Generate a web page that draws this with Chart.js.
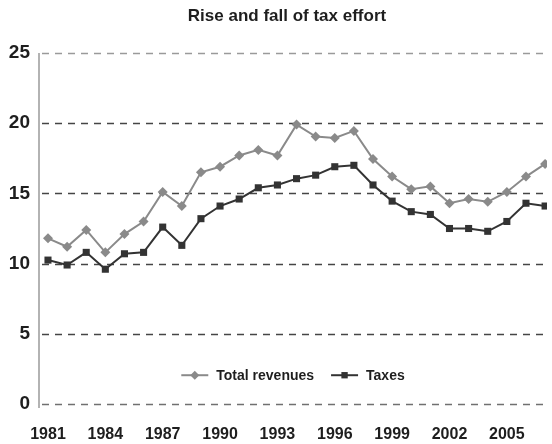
<!DOCTYPE html>
<html>
<head>
<meta charset="utf-8">
<script src="https://cdn.jsdelivr.net/npm/chart.js@4/dist/chart.umd.min.js"></script>
<style>
  html, body { margin: 0; padding: 0; background: #fff; }
  #wrap { width: 552px; height: 444px; position: relative; }
</style>
</head>
<body>
<div id="wrap"><canvas id="c" width="552" height="444"></canvas></div>
<script>
// Years covered by the series
const years = [1981, 1982, 1983, 1984, 1985, 1986, 1987, 1988, 1989, 1990,
  1991, 1992, 1993, 1994, 1995, 1996, 1997, 1998, 1999, 2000,
  2001, 2002, 2003, 2004, 2005, 2006, 2007];

// Total revenues, % of GDP
const totalRevenues = [11.8, 11.2, 12.4, 10.8, 12.1, 13.0, 15.1, 14.1, 16.5, 16.9,
  17.7, 18.1, 17.7, 19.9, 19.05, 18.95, 19.45, 17.45, 16.2, 15.3,
  15.5, 14.3, 14.6, 14.4, 15.1, 16.2, 17.1];

// Taxes, % of GDP
const taxes = [10.25, 9.9, 10.8, 9.6, 10.7, 10.8, 12.6, 11.3, 13.2, 14.1,
  14.6, 15.4, 15.6, 16.05, 16.3, 16.9, 17.0, 15.6, 14.45, 13.7,
  13.5, 12.5, 12.5, 12.3, 13.0, 14.3, 14.1];

// Labelled years on the horizontal axis
const xTickLabels = [1981, 1984, 1987, 1990, 1993, 1996, 1999, 2002, 2005];
// Values on the vertical axis
const yTickLabels = [0, 5, 10, 15, 20, 25];

const chartTitle = 'Rise and fall of tax effort';
const FONT = '"Liberation Sans", Arial, Helvetica, sans-serif';

// Dashed horizontal grid lines at each y tick, plus the solid vertical axis line
const dashedGrid = {
  id: 'dashedGrid',
  beforeDatasetsDraw(chart) {
    const ctx = chart.ctx;
    const area = chart.chartArea;
    const ys = chart.scales.y;
    ctx.save();
    ctx.lineWidth = 1.3;
    ctx.setLineDash([7, 6]);
    yTickLabels.forEach(v => {
      const py = Math.round(ys.getPixelForValue(v)) + 0.5;
      ctx.strokeStyle = v === 25 ? '#9a9a9a' : (v === 0 ? '#707070' : '#454545');
      ctx.beginPath();
      ctx.moveTo(area.left + 3, py);
      ctx.lineTo(area.right, py);
      ctx.stroke();
    });
    ctx.setLineDash([]);
    ctx.strokeStyle = '#9a9a9a';
    ctx.lineWidth = 1.5;
    ctx.beginPath();
    ctx.moveTo(area.left, area.top);
    ctx.lineTo(area.left, area.bottom + 4);
    ctx.stroke();
    ctx.restore();
  }
};

// Title centred over the plot
const plotTitle = {
  id: 'plotTitle',
  afterDraw(chart) {
    const ctx = chart.ctx;
    ctx.save();
    ctx.font = 'bold 17px ' + FONT;
    ctx.fillStyle = '#1e1e1e';
    ctx.textAlign = 'center';
    ctx.textBaseline = 'middle';
    ctx.fillText(chartTitle, 287, 16);
    ctx.restore();
  }
};

// Legend drawn inside the plot area: a line sample with its marker, then the name
const innerLegend = {
  id: 'innerLegend',
  afterDatasetsDraw(chart) {
    const ctx = chart.ctx;
    const area = chart.chartArea;
    const y = area.top + (area.bottom - area.top) * 0.918;
    const sample = 27, textGap = 8, itemGap = 17;
    ctx.save();
    ctx.font = 'bold 14px ' + FONT;
    const items = chart.data.datasets.map(ds => ({ ds, w: ctx.measureText(ds.label).width }));
    const total = items.reduce((s, it) => s + sample + textGap + it.w, 0) + itemGap * (items.length - 1);
    let x = (area.left + area.right) / 2 - total / 2;
    items.forEach(it => {
      const ds = it.ds;
      ctx.strokeStyle = ds.borderColor;
      ctx.lineWidth = ds.borderWidth;
      ctx.beginPath();
      ctx.moveTo(x, y);
      ctx.lineTo(x + sample, y);
      ctx.stroke();
      ctx.fillStyle = ds.pointBackgroundColor;
      Chart.helpers.drawPoint(ctx, { pointStyle: ds.pointStyle, radius: ds.pointRadius - 0.5, borderWidth: 0 }, x + sample / 2, y);
      ctx.fillStyle = '#1e1e1e';
      ctx.textBaseline = 'middle';
      ctx.textAlign = 'left';
      ctx.fillText(ds.label, x + sample + textGap, y + 0.5);
      x += sample + textGap + it.w + itemGap;
    });
    ctx.restore();
  }
};

new Chart(document.getElementById('c'), {
  type: 'line',
  data: {
    datasets: [
      {
        label: 'Total revenues',
        data: years.map((yr, i) => ({ x: yr, y: totalRevenues[i] })),
        borderColor: '#8a8a8a',
        backgroundColor: '#8a8a8a',
        pointBackgroundColor: '#8a8a8a',
        pointBorderWidth: 0,
        borderWidth: 2,
        pointStyle: 'rectRot',
        pointRadius: 5,
        tension: 0
      },
      {
        label: 'Taxes',
        data: years.map((yr, i) => ({ x: yr, y: taxes[i] })),
        borderColor: '#333333',
        backgroundColor: '#333333',
        pointBackgroundColor: '#333333',
        pointBorderWidth: 0,
        borderWidth: 2,
        pointStyle: 'rect',
        pointRadius: 5,
        tension: 0
      }
    ]
  },
  options: {
    responsive: false,
    animation: false,
    layout: { padding: { left: 0, right: 5, top: 53, bottom: 0 } },
    plugins: {
      legend: { display: false },
      tooltip: { enabled: false },
      title: { display: false }
    },
    scales: {
      x: {
        type: 'linear',
        min: 1980.53,
        max: 2007.1,
        afterBuildTicks(scale) { scale.ticks = xTickLabels.map(v => ({ value: v })); },
        afterFit(scale) { scale.height = 40; },
        grid: { display: false, drawTicks: false },
        border: { display: false },
        ticks: {
          color: '#1e1e1e',
          font: { family: FONT, size: 16, weight: 'bold' },
          padding: 21,
          maxRotation: 0,
          autoSkip: false,
          callback: v => String(v)
        }
      },
      y: {
        min: 0,
        max: 25,
        afterBuildTicks(scale) { scale.ticks = yTickLabels.map(v => ({ value: v })); },
        afterFit(scale) { scale.width = 39; },
        grid: { display: false, drawTicks: false },
        border: { display: false },
        ticks: {
          color: '#1e1e1e',
          font: { family: FONT, size: 19, weight: 'bold' },
          padding: 9,
          callback: v => String(v)
        }
      }
    }
  },
  plugins: [dashedGrid, innerLegend, plotTitle]
});
</script>
</body>
</html>
